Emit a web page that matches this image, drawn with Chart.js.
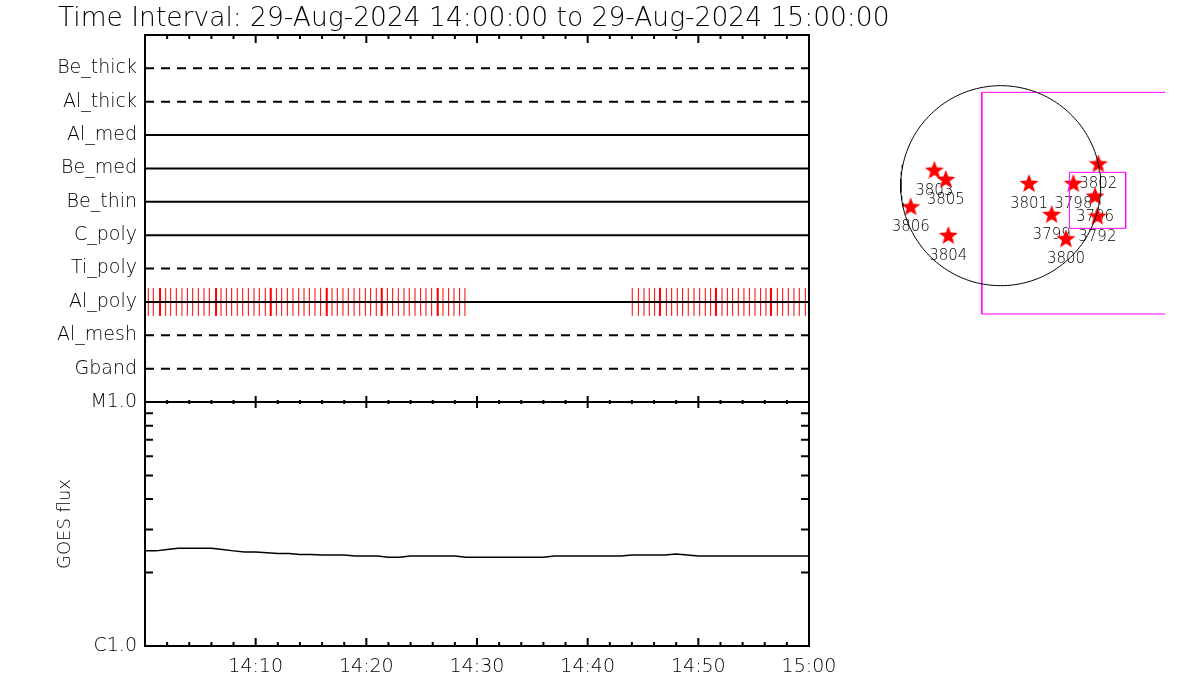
<!DOCTYPE html>
<html>
<head>
<meta charset="utf-8">
<script src="https://cdn.jsdelivr.net/npm/chart.js@4.4.1/dist/chart.umd.min.js"></script>
<style>
  body { margin: 0; background: #fff; }
  #wrap { position: relative; width: 1200px; height: 700px; }
  #main { position: absolute; left: 0; top: 0; }
  #sun { position: absolute; left: 830px; top: 0; }
</style>
</head>
<body>
<div id="wrap">
  <canvas id="main" width="1200" height="700"></canvas>
  <canvas id="sun" width="370" height="400"></canvas>
</div>
<script>
const titleText = "Time Interval: 29-Aug-2024 14:00:00 to 29-Aug-2024 15:00:00";

// detector rows, top to bottom
const rowNames = ["Be_thick", "Al_thick", "Al_med", "Be_med", "Be_thin", "C_poly", "Ti_poly", "Al_poly", "Al_mesh", "Gband"];
const dashedRows = ["Be_thick", "Al_thick", "Ti_poly", "Al_mesh", "Gband"];

// red marks on Al_poly, minutes after 14:00
const alPolyMarks = [
  0.30, 0.75, 1.36, 1.87, 2.32, 2.83, 3.34, 3.83, 4.31, 4.82,
  5.33, 5.81, 6.42, 6.87, 7.35, 7.83, 8.34, 8.83, 9.34, 9.85,
  10.33, 10.87, 11.36, 11.87, 12.35, 12.86, 13.37, 13.89, 14.37, 14.85,
  15.36, 15.87, 16.42, 16.90, 17.38, 17.89, 18.37, 18.89, 19.40, 19.91,
  20.39, 20.90, 21.39, 21.90, 22.38, 22.89, 23.40, 23.88, 24.40, 24.91,
  25.39, 25.90, 26.45, 26.93, 27.44, 27.92, 28.43, 28.91,
  44.03, 44.58, 45.09, 45.57, 46.05, 46.53, 47.11, 47.59, 48.10, 48.58,
  49.09, 49.61, 50.12, 50.63, 51.11, 51.59, 52.14, 52.62, 53.10, 53.61,
  54.12, 54.61, 55.12, 55.63, 56.11, 56.56, 57.14, 57.62, 58.13, 58.64,
  59.12, 59.67
];
const alPolyWide = [1.36, 6.42, 11.36, 16.42, 21.39, 26.45, 46.53, 51.59, 56.56];

// GOES flux, one value per minute from 14:00 to 15:00 (W/m^2)
const goesFlux = [
  2.454e-6, 2.454e-6, 2.484e-6, 2.515e-6, 2.515e-6, 2.515e-6, 2.515e-6, 2.484e-6, 2.454e-6, 2.426e-6,
  2.426e-6, 2.410e-6, 2.396e-6, 2.396e-6, 2.373e-6, 2.373e-6, 2.360e-6, 2.360e-6, 2.360e-6, 2.338e-6,
  2.338e-6, 2.338e-6, 2.310e-6, 2.310e-6, 2.338e-6, 2.338e-6, 2.338e-6, 2.338e-6, 2.338e-6, 2.310e-6,
  2.310e-6, 2.310e-6, 2.310e-6, 2.310e-6, 2.310e-6, 2.310e-6, 2.310e-6, 2.338e-6, 2.338e-6, 2.338e-6,
  2.338e-6, 2.338e-6, 2.338e-6, 2.338e-6, 2.360e-6, 2.360e-6, 2.360e-6, 2.360e-6, 2.380e-6, 2.360e-6,
  2.338e-6, 2.338e-6, 2.338e-6, 2.338e-6, 2.338e-6, 2.338e-6, 2.338e-6, 2.338e-6, 2.338e-6, 2.338e-6,
  2.338e-6
];

const majorMinutes = [10, 20, 30, 40, 50, 60];
const timeLabels = ["14:10", "14:20", "14:30", "14:40", "14:50", "15:00"];
const fluxTicks = [1e-6, 1e-5];
const fluxLabels = ["C1.0", "M1.0"];

// active regions on the disk, arcsec
const regionNames = ["3803", "3805", "3806", "3804", "3801", "3798", "3802", "3796", "3792", "3799", "3800"];
const regionX = [-631, -522, -855, -498, 269, 690, 927, 896, 918, 484, 620];
const regionY = [142, 54, -205, -478, 16, 16, 203, -104, -294, -278, -509];
const solarRadius = 950;
const bigBoxX = [1560, -180, -180, 1560];
const bigBoxY = [887, 887, -1219, -1219];
const smallBoxX = [652, 1187, 1187, 652, 652];
const smallBoxY = [127, 127, -405, -405, 127];

Chart.defaults.font.family = '"DejaVu Sans", sans-serif';
Chart.defaults.font.weight = 200;
Chart.defaults.color = '#000';

const rowValue = name => rowNames.length - rowNames.indexOf(name);

const datasets = rowNames.map(name => ({
  data: [{ x: 0, y: rowValue(name) }, { x: 60, y: rowValue(name) }],
  yAxisID: 'yTop',
  showLine: true,
  borderColor: '#000',
  borderWidth: 2,
  borderDash: dashedRows.includes(name) ? [9, 7] : [],
  pointRadius: 0
}));

datasets.push({
  data: alPolyMarks.map(t => ({ x: t, y: rowValue("Al_poly") })),
  yAxisID: 'yTop',
  pointStyle: 'line',
  rotation: 90,
  pointRadius: 14,
  borderColor: '#ff0000',
  borderWidth: 1
});
datasets.push({
  data: alPolyWide.map(t => ({ x: t, y: rowValue("Al_poly") })),
  yAxisID: 'yTop',
  pointStyle: 'line',
  rotation: 90,
  pointRadius: 14,
  borderColor: '#ff0000',
  borderWidth: 2
});
datasets.push({
  data: goesFlux.map((v, i) => ({ x: i, y: v })),
  yAxisID: 'yBot',
  showLine: true,
  borderColor: '#000',
  borderWidth: 1.5,
  pointRadius: 0
});

const framePlugin = {
  id: 'frame',
  afterDatasetsDraw(chart) {
    const { ctx, chartArea: a, scales: { x, yBot } } = chart;
    const mid = yBot.top;
    ctx.save();
    ctx.strokeStyle = '#000';
    ctx.lineWidth = 2;
    ctx.strokeRect(a.left, a.top, a.right - a.left, a.bottom - a.top);
    ctx.beginPath();
    ctx.moveTo(a.left, mid);
    ctx.lineTo(a.right, mid);
    x.ticks.forEach(t => {
      const px = x.getPixelForValue(t.value);
      const major = t.value % 10 === 0;
      const len = major ? 8 : 4;
      ctx.moveTo(px, a.top);
      ctx.lineTo(px, a.top + len);
      ctx.moveTo(px, a.bottom);
      ctx.lineTo(px, a.bottom - len);
      ctx.moveTo(px, mid - (major ? 6 : 2));
      ctx.lineTo(px, mid + (major ? 6 : 2));
    });
    yBot.ticks.forEach(t => {
      const py = yBot.getPixelForValue(t.value);
      ctx.moveTo(a.left, py);
      ctx.lineTo(a.left + 8, py);
      ctx.moveTo(a.right, py);
      ctx.lineTo(a.right - 8, py);
    });
    ctx.stroke();
    ctx.restore();
  },
  afterDraw(chart) {
    const ctx = chart.ctx;
    ctx.save();
    ctx.font = '200 26.5px "DejaVu Sans"';
    ctx.fillStyle = '#000';
    ctx.textBaseline = 'alphabetic';
    ctx.fillText(titleText, 58, 26);
    ctx.restore();
  }
};

new Chart(document.getElementById('main'), {
  type: 'scatter',
  data: { datasets },
  options: {
    responsive: false,
    animation: false,
    events: [],
    layout: { padding: { left: 0, top: 35, right: 391, bottom: 0 }, autoPadding: false },
    plugins: { legend: { display: false }, tooltip: { enabled: false } },
    scales: {
      x: {
        type: 'linear', position: 'bottom', min: 0, max: 60,
        grid: { display: false, drawTicks: false }, border: { display: false },
        ticks: {
          stepSize: 2, autoSkip: false, maxRotation: 0, padding: 10,
          font: { size: 19 },
          callback: v => {
            const i = majorMinutes.indexOf(v);
            return i >= 0 ? timeLabels[i] : '';
          }
        },
        afterFit(s) { s.height = 54; }
      },
      yBot: {
        type: 'logarithmic', position: 'left', stack: 'panels', stackWeight: 244,
        min: 1e-6, max: 1e-5,
        grid: { display: false, drawTicks: false }, border: { display: false },
        title: { display: true, text: 'GOES flux', font: { size: 18 }, padding: { top: 55, bottom: 0 } },
        ticks: {
          autoSkip: false, padding: 8,
          font: { size: 19 },
          callback: v => {
            const i = fluxTicks.findIndex(f => Math.abs(Math.log10(f) - Math.log10(v)) < 0.01);
            return i >= 0 ? fluxLabels[i] : '';
          }
        },
        afterFit(s) { s.width = 145; }
      },
      yTop: {
        type: 'linear', position: 'left', stack: 'panels', stackWeight: 367,
        min: 0, max: 11,
        grid: { display: false, drawTicks: false }, border: { display: false },
        ticks: {
          stepSize: 1, autoSkip: false, padding: 8,
          font: { size: 19 },
          callback: v => rowNames[rowNames.length - v] || ''
        },
        afterFit(s) { s.width = 145; }
      }
    }
  },
  plugins: [framePlugin]
});

// sun map
function makeStar(r) {
  const c = document.createElement('canvas');
  c.width = c.height = 2 * r + 2;
  const g = c.getContext('2d');
  g.fillStyle = '#ff0000';
  g.beginPath();
  for (let k = 0; k < 10; k++) {
    const rad = k % 2 ? r * 0.42 : r;
    const ang = -Math.PI / 2 + k * Math.PI / 5;
    g.lineTo(r + 1 + rad * Math.cos(ang), r + 1 + rad * Math.sin(ang));
  }
  g.closePath();
  g.fill();
  return c;
}

const limb = [];
for (let d = 0; d <= 360; d += 2) {
  limb.push({ x: solarRadius * Math.cos(d * Math.PI / 180), y: solarRadius * Math.sin(d * Math.PI / 180) });
}

const labelPlugin = {
  id: 'regionLabels',
  beforeDatasetsDraw(chart) {
    const { ctx, scales: { x, y } } = chart;
    ctx.save();
    ctx.font = '200 15px "DejaVu Sans"';
    ctx.fillStyle = '#000';
    ctx.textAlign = 'center';
    ctx.textBaseline = 'middle';
    regionNames.forEach((n, i) => {
      ctx.fillText(n, x.getPixelForValue(regionX[i]), y.getPixelForValue(regionY[i]) + 20);
    });
    ctx.restore();
  }
};

new Chart(document.getElementById('sun'), {
  type: 'scatter',
  data: {
    datasets: [
      { data: limb, showLine: true, borderColor: '#000', borderWidth: 1, pointRadius: 0 },
      { data: bigBoxX.map((v, i) => ({ x: v, y: bigBoxY[i] })), showLine: true, borderColor: '#ff00ff', borderWidth: 1, pointRadius: 0 },
      { data: smallBoxX.map((v, i) => ({ x: v, y: smallBoxY[i] })), showLine: true, borderColor: '#ff00ff', borderWidth: 1, pointRadius: 0 },
      { data: regionX.map((v, i) => ({ x: v, y: regionY[i] })), pointStyle: makeStar(10), pointRadius: 10, clip: false }
    ]
  },
  options: {
    responsive: false,
    animation: false,
    events: [],
    layout: { padding: 0, autoPadding: false },
    plugins: { legend: { display: false }, tooltip: { enabled: false } },
    scales: {
      x: { type: 'linear', display: false, min: -1622, max: 1893 },
      y: { type: 'linear', display: false, min: -2036, max: 1764 }
    }
  },
  plugins: [labelPlugin]
});
</script>
</body>
</html>
